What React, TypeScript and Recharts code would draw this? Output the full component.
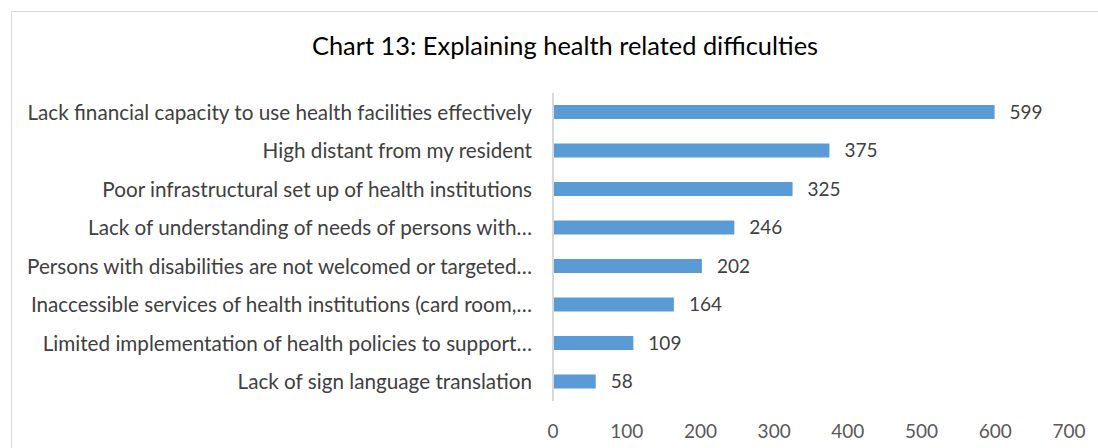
import { BarChart, Bar, XAxis, YAxis, LabelList } from 'recharts'

const categories = [
  'Lack financial capacity to use health facilities effectively',
  'High distant from my resident',
  'Poor infrastructural set up of health institutions',
  'Lack of understanding of needs of persons with…',
  'Persons with disabilities are not welcomed or targeted…',
  'Inaccessible services of health institutions (card room,…',
  'Limited implementation of health policies to support…',
  'Lack of sign language translation',
]

const counts = [599, 375, 325, 246, 202, 164, 109, 58]

const xTicks = [0, 100, 200, 300, 400, 500, 600, 700]

const data = categories.map((name, i) => ({ name, value: counts[i] }))

const FONT = 'Lato, "Open Sans", sans-serif'

export default function App() {
  return (
    <div
      style={{
        position: 'absolute',
        left: 0,
        top: 0,
        width: 1098,
        height: 448,
        overflow: 'hidden',
        background: '#fff',
        fontFamily: FONT,
      }}
    >
      <div
        style={{
          position: 'absolute',
          left: 11,
          top: 11,
          width: 1200,
          height: 600,
          border: '1px solid #d9d9d9',
        }}
      />
      <div
        style={{
          position: 'absolute',
          left: 0,
          top: 30,
          width: 1130,
          textAlign: 'center',
          fontSize: 25.4,
          color: '#000',
        }}
      >
        Chart 13: Explaining health related difficulties
      </div>
      <div style={{ position: 'absolute', left: 0, top: 0 }}>
        <BarChart
          width={1098}
          height={448}
          layout="vertical"
          data={data}
          margin={{ top: 93, right: 29, bottom: 0, left: 0 }}
          barCategoryGap="32%"
        >
          <XAxis
            type="number"
            domain={[0, 700]}
            ticks={xTicks}
            axisLine={false}
            tickLine={false}
            tickSize={0}
            tickMargin={24}
            height={47}
            tick={{ fill: '#595959', fontSize: 19, fontFamily: FONT }}
            interval={0}
          />
          <YAxis
            type="category"
            dataKey="name"
            width={553}
            axisLine={{ stroke: '#d9d9d9', strokeWidth: 2 }}
            tickLine={false}
            tickSize={0}
            tickMargin={21}
            interval={0}
            tick={{ fill: '#404040', fontSize: 20.7, fontFamily: FONT }}
          />
          <Bar dataKey="value" fill="#5b9bd5" barSize={14} isAnimationActive={false}>
            <LabelList
              dataKey="value"
              position="right"
              offset={15}
              fill="#404040"
              fontSize={19}
              fontFamily={FONT}
            />
          </Bar>
        </BarChart>
      </div>
    </div>
  )
}
